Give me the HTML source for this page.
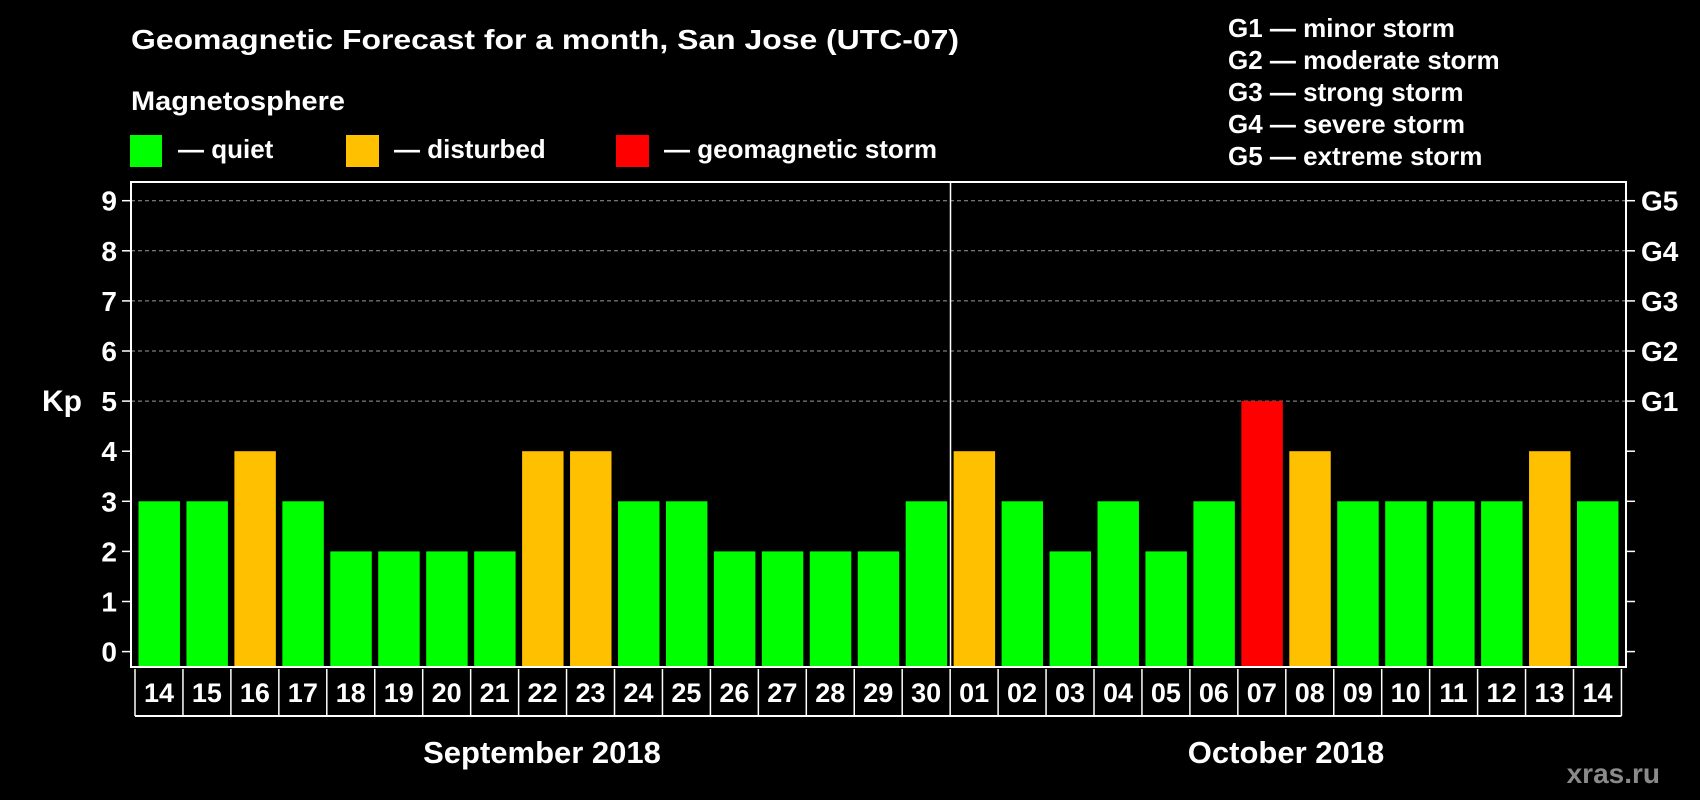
<!DOCTYPE html>
<html><head><meta charset="utf-8"><style>
html,body{margin:0;padding:0;background:#000;}
svg{display:block;font-family:"Liberation Sans",Arial,sans-serif;font-weight:bold;}
</style></head><body>
<svg id="chart" width="1700" height="800" viewBox="0 0 1700 800" xmlns="http://www.w3.org/2000/svg">
<rect width="1700" height="800" fill="#000"/>
<text x="131" y="49" fill="#fff" font-size="28" textLength="828" lengthAdjust="spacingAndGlyphs">Geomagnetic Forecast for a month, San Jose (UTC-07)</text>
<text x="131" y="110" fill="#fff" font-size="27" textLength="214" lengthAdjust="spacingAndGlyphs">Magnetosphere</text>
<g>
<rect x="130" y="135" width="32" height="32" fill="#00ff00"/>
<text x="178" y="158" fill="#fff" font-size="26">— quiet</text></g>
<g>
<rect x="346" y="135" width="33" height="32" fill="#ffc000"/>
<text x="394" y="158" fill="#fff" font-size="26">— disturbed</text></g>
<g>
<rect x="616" y="135" width="33" height="32" fill="#ff0000"/>
<text x="664" y="158" fill="#fff" font-size="26">— geomagnetic storm</text></g>
<g fill="#fff" font-size="26">
<text x="1228" y="37">G1 — minor storm</text>
<text x="1228" y="69">G2 — moderate storm</text>
<text x="1228" y="101">G3 — strong storm</text>
<text x="1228" y="133">G4 — severe storm</text>
<text x="1228" y="165">G5 — extreme storm</text>
</g>
<text x="42" y="411" fill="#fff" font-size="30">Kp</text>
<text x="542" y="763" fill="#fff" font-size="31" text-anchor="middle">September 2018</text>
<text x="1286" y="763" fill="#fff" font-size="31" text-anchor="middle">October 2018</text>
<text x="1660" y="783" fill="#8a8a8a" font-size="28" text-anchor="end">xras.ru</text>
<g id="plot"></g>
</svg>
<script>
const days = ["14","15","16","17","18","19","20","21","22","23","24","25","26","27","28","29","30","01","02","03","04","05","06","07","08","09","10","11","12","13","14"];
const kpValues = [3,3,4,3,2,2,2,2,4,4,3,3,2,2,2,2,3,4,3,2,3,2,3,5,4,3,3,3,3,4,3];
const yTicks = [0,1,2,3,4,5,6,7,8,9];
const gLabels = ["G1","G2","G3","G4","G5"];
const gLevels = [5,6,7,8,9];
const monthSplit = 17;

const NS = "http://www.w3.org/2000/svg";
const plot = document.getElementById('plot');
const L = 131, R = 1626, T = 182, B = 667;
const slotW = 47.95;
const x0 = 135;
function yScale(v){ return 651.6 - v * 50.1; }
function xSlot(i){ return x0 + i * slotW; }
function mk(tag, attrs, parent){
  const e = document.createElementNS(NS, tag);
  for (const k in attrs) e.setAttribute(k, attrs[k]);
  (parent || plot).appendChild(e);
  return e;
}
function color(v){ return v >= 5 ? "#ff0000" : (v >= 4 ? "#ffc000" : "#00ff00"); }

gLevels.forEach(v => {
  const g = mk('line', {x1: L, x2: R, y1: yScale(v), y2: yScale(v), stroke: '#9a9a9a', 'stroke-width': 1, 'stroke-dasharray': '4,3'});
  
  
});
kpValues.forEach((v, i) => {
  const b = mk('rect', {x: xSlot(i) + 3.5, y: yScale(v), width: slotW - 6.5, height: B - 1 - yScale(v), fill: color(v)});
  
  
});
const fr = mk('rect', {x: L, y: T, width: R - L, height: B - T, fill: 'none', stroke: '#fff', 'stroke-width': 2});


const dv = mk('line', {x1: 950.5, x2: 950.5, y1: T, y2: B, stroke: '#fff', 'stroke-width': 1.5});


yTicks.forEach(v => {
  const y = yScale(v);
  mk('line', {x1: L - 9, x2: L, y1: y, y2: y, stroke: '#fff', 'stroke-width': 1.5});
  mk('line', {x1: R, x2: R + 9, y1: y, y2: y, stroke: '#fff', 'stroke-width': 1.5});
  const t = mk('text', {x: 117, y: y + 10, fill: '#fff', 'font-size': 28, 'text-anchor': 'end'});
  t.textContent = yTicks[v];
  
  
});
gLabels.forEach((g, i) => {
  const t = mk('text', {x: 1641, y: yScale(gLevels[i]) + 10, fill: '#fff', 'font-size': 28});
  t.textContent = g;
  
  
});
const boxTop = 669, boxBot = 716;
mk('line', {x1: x0, x2: xSlot(days.length), y1: boxBot, y2: boxBot, stroke: '#fff', 'stroke-width': 2});
days.forEach((d, i) => {
  mk('line', {x1: xSlot(i), x2: xSlot(i), y1: boxTop, y2: boxBot, stroke: '#fff', 'stroke-width': 1.5});
  const t = mk('text', {x: xSlot(i) + slotW / 2, y: 702, fill: '#fff', 'font-size': 27, 'text-anchor': 'middle'});
  t.textContent = d;
  
  
});
mk('line', {x1: xSlot(days.length), x2: xSlot(days.length), y1: boxTop, y2: boxBot, stroke: '#fff', 'stroke-width': 1.5});
</script>
</body></html>
